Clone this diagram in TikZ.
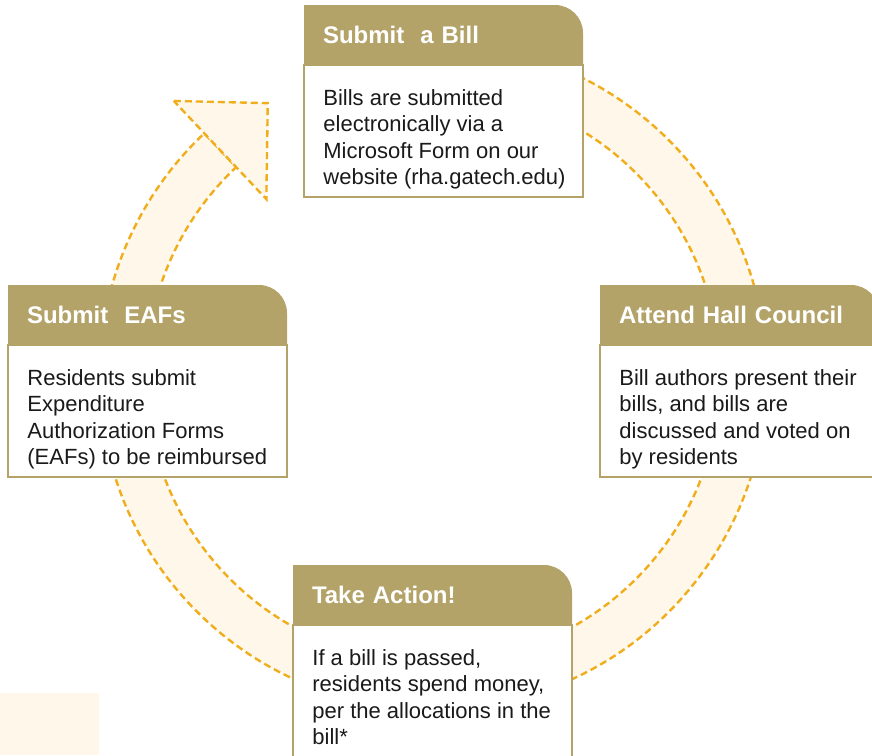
\documentclass[tikz,border=0pt]{standalone}
\usepackage{fontspec}
\setmainfont{Liberation Sans}
\usetikzlibrary{positioning,calc}

\definecolor{techgold}{HTML}{B3A369}
\definecolor{bandfill}{HTML}{FFF8EA}
\definecolor{banddash}{HTML}{F0AD1C}
\definecolor{bodyink}{HTML}{1A1A1A}

\begin{document}
\begin{tikzpicture}[x=0.5pt, y=-0.5pt,
    header/.style={anchor=north west, minimum width=139.5pt, minimum height=30pt,
        text width=120.5pt, inner xsep=9.5pt, inner ysep=0pt, outer sep=0pt, align=left,
        text=white, font=\bfseries\fontsize{12}{14}\selectfont,
        path picture={\fill[techgold] (path picture bounding box.south west)
            -- (path picture bounding box.north west)
            -- ([xshift=-14pt]path picture bounding box.north east)
            arc[start angle=90, end angle=0, radius=14pt]
            -- (path picture bounding box.south east) -- cycle;}},
    panel/.style={draw=techgold, line width=1pt, fill=white, minimum width=139.5pt,
        minimum height=66pt, inner sep=0pt, outer sep=0pt},
    blurb/.style={anchor=north west, inner sep=0pt, align=left, text=bodyink,
        font=\fontsize{11}{13.2}\selectfont},
    band/.style={fill=bandfill, draw=banddash, line width=1.2pt, dash pattern=on 3.5pt off 2pt}]

    \useasboundingbox (0,0) rectangle (872,755);
    \clip (0,0) rectangle (872,755);

    % corner patch
    \fill[bandfill] (0,693) rectangle (99,755);

    % cycle arrow
    \coordinate (ctr) at (433,376);
    \draw[band] ([shift={(100:166.75pt)}]ctr) arc[start angle=100, end angle=-226.7, radius=166.75pt]
        -- ([shift={(133.3:143.5pt)}]ctr) arc[start angle=-226.7, end angle=100, radius=143.5pt] -- cycle;
    \draw[band] ([shift={(133.3:189pt)}]ctr) -- ([shift={(121.2:159.5pt)}]ctr)
        -- ([shift={(133.3:121.5pt)}]ctr) -- cycle;

    % Submit a Bill
    \node[header] (hbill) at (304,5) {Submit\ \ a Bill};
    \node[panel, below=0pt of hbill] (pbill) {};
    \node[blurb] (tbill) at ([shift={(9.5pt,-12pt)}]pbill.north west)
        {Bills are submitted\\electronically via a\\Microsoft Form on our\\website (rha.gatech.edu)};

    % Attend Hall Council
    \node[header] (hcouncil) at (600,285) {Attend Hall Council};
    \node[panel, below=0pt of hcouncil] (pcouncil) {};
    \node[blurb] (tcouncil) at ([shift={(9.5pt,-12pt)}]pcouncil.north west)
        {Bill authors present their\\bills, and bills are\\discussed and voted on\\by residents};

    % Take Action!
    \node[header] (haction) at (293,565) {Take Action!};
    \node[panel, below=0pt of haction] (paction) {};
    \node[blurb] (taction) at ([shift={(9.5pt,-12pt)}]paction.north west)
        {If a bill is passed,\\residents spend money,\\per the allocations in the\\bill*};

    % Submit EAFs
    \node[header] (heafs) at (8,285) {Submit\ \ EAFs};
    \node[panel, below=0pt of heafs] (peafs) {};
    \node[blurb] (teafs) at ([shift={(9.5pt,-12pt)}]peafs.north west)
        {Residents submit\\Expenditure\\Authorization Forms\\(EAFs) to be reimbursed};
\end{tikzpicture}
\end{document}
